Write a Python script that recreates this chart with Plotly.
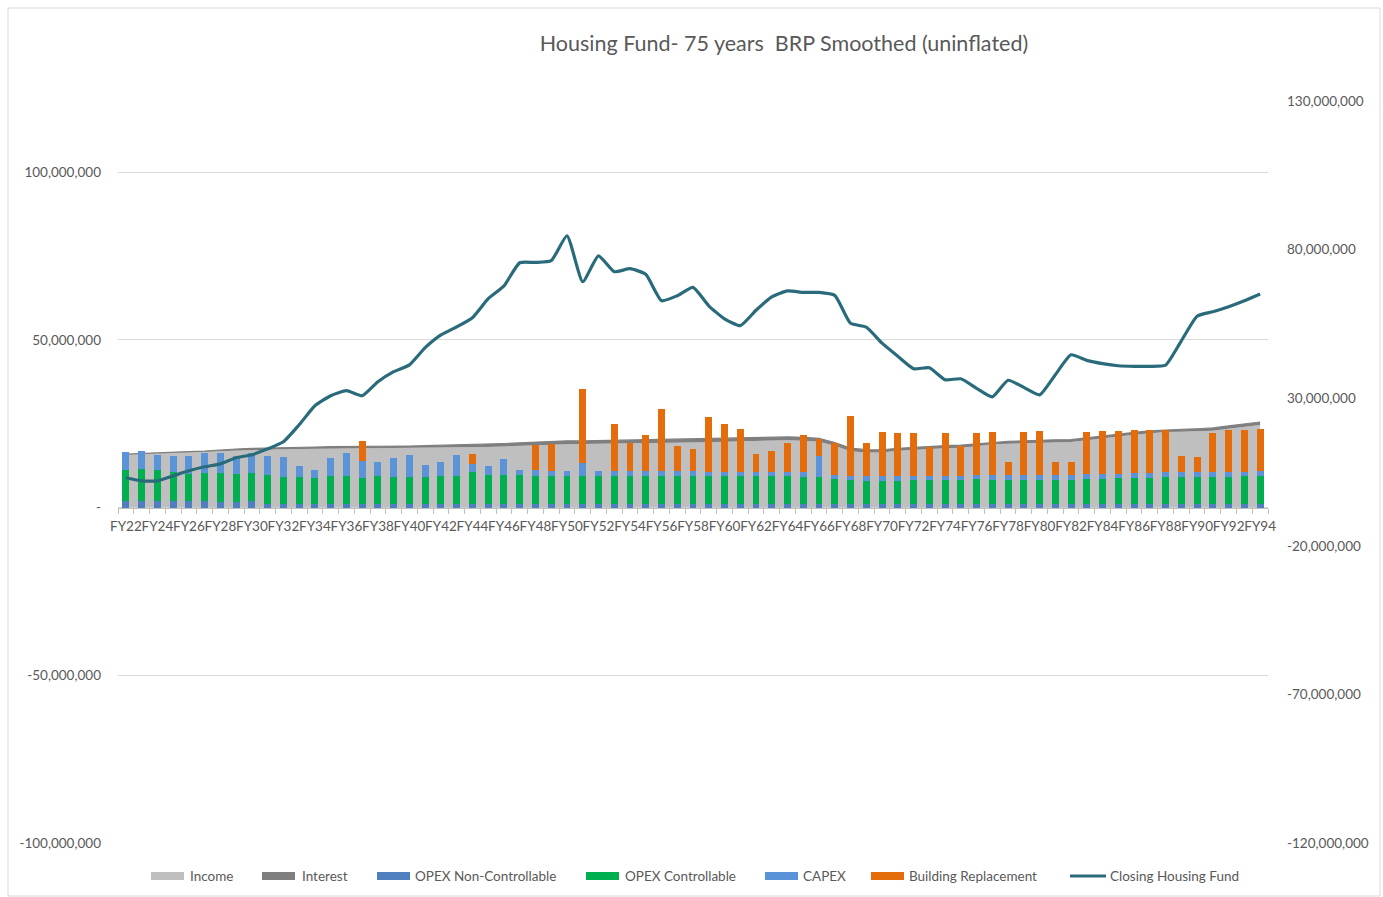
import plotly.graph_objects as go

years = ["FY%d" % y for y in range(22, 95)]
shown_labels = ["FY22", "FY24", "FY26", "FY28", "FY30", "FY32", "FY34", "FY36", "FY38", "FY40",
                "FY42", "FY44", "FY46", "FY48", "FY50", "FY52", "FY54", "FY56", "FY58", "FY60",
                "FY62", "FY64", "FY66", "FY68", "FY70", "FY72", "FY74", "FY76", "FY78", "FY80",
                "FY82", "FY84", "FY86", "FY88", "FY90", "FY92", "FY94"]

# values in millions
income = [15.8, 16.05, 16.2, 16.35, 16.5, 16.65, 16.95, 17.1, 17.25, 17.35,
          17.4, 17.45, 17.5, 17.55, 17.55, 17.55, 17.55, 17.6, 17.65, 17.7,
          17.8, 17.85, 17.95, 18.05, 18.2, 18.4, 18.55, 18.75, 18.9, 18.95,
          19.0, 19.05, 19.1, 19.15, 19.25, 19.3, 19.35, 19.5, 19.65, 19.8,
          19.95, 20.0, 20.05, 19.95, 19.65, 18.45, 16.8, 16.45, 16.45, 16.9,
          17.2, 17.45, 17.7, 17.85, 18.25, 18.9, 19.05, 19.25, 19.4, 19.5,
          19.55, 20.1, 20.75, 21.2, 21.7, 22.15, 22.5, 22.6, 22.7, 22.9,
          23.5, 24.0, 24.6]
interest = [0.1, 0.1, 0.15, 0.15, 0.2, 0.2, 0.3, 0.35, 0.4, 0.45,
            0.5, 0.55, 0.55, 0.6, 0.6, 0.65, 0.65, 0.7, 0.7, 0.75,
            0.75, 0.8, 0.8, 0.85, 0.9, 0.9, 0.95, 1.0, 1.0, 0.9,
            0.95, 1.0, 1.05, 1.1, 1.15, 1.2, 1.25, 1.2, 1.15, 1.05,
            1.0, 1.0, 1.0, 1.0, 1.0, 0.9, 0.9, 0.8, 0.75, 0.75,
            0.75, 0.75, 0.75, 0.75, 0.7, 0.6, 0.65, 0.65, 0.7, 0.7,
            0.7, 0.7, 0.7, 0.7, 0.7, 0.7, 0.7, 0.75, 0.8, 0.85,
            0.85, 0.9, 0.9]
opex_nc = [2.1, 2.1, 2.1, 2.1, 2.1, 2.1, 1.6, 1.6, 2.1, 1.1,
           1.1, 1.1, 1.1, 1.1, 1.1, 1.1, 1.1, 1.1, 1.1, 1.1,
           1.1, 1.1, 1.1, 1.1, 1.1, 1.1, 1.1, 1.1, 1.1, 1.1,
           1.1, 1.1, 1.1, 1.1, 1.1, 1.1, 1.1, 1.1, 1.1, 1.1,
           1.1, 1.1, 1.1, 1.1, 1.1, 1.1, 1.1, 1.1, 1.1, 1.1,
           1.1, 1.1, 1.1, 1.1, 1.1, 1.1, 1.1, 1.1, 1.1, 1.1,
           1.1, 1.1, 1.1, 1.1, 1.1, 1.1, 1.1, 1.1, 1.1, 1.1,
           1.1, 1.1, 1.1]
opex_c = [9.0, 9.3, 9.0, 8.6, 8.0, 8.3, 8.8, 8.5, 8.3, 8.5,
          8.0, 8.0, 7.8, 8.3, 8.3, 7.8, 8.3, 8.0, 8.0, 8.0,
          8.3, 8.3, 9.5, 8.5, 8.7, 8.5, 8.3, 8.3, 8.3, 8.3,
          8.3, 8.3, 8.3, 8.3, 8.3, 8.3, 8.3, 8.2, 8.2, 8.2,
          8.2, 8.2, 8.2, 7.9, 8.0, 7.35, 7.1, 6.75, 6.75, 6.75,
          7.1, 7.1, 7.1, 7.1, 7.35, 7.2, 7.2, 7.2, 7.2, 7.2,
          7.2, 7.4, 7.4, 7.7, 7.7, 7.7, 7.9, 7.9, 7.9, 7.9,
          7.9, 8.2, 8.2]
capex = [5.5, 5.4, 4.7, 4.55, 5.15, 5.85, 5.85, 5.15, 5.85, 5.85,
         6.1, 3.15, 2.2, 5.35, 6.85, 5.05, 4.15, 5.65, 6.55, 3.55,
         4.05, 6.25, 2.5, 2.7, 4.65, 1.5, 1.7, 1.4, 1.5, 3.8,
         1.5, 1.4, 1.4, 1.4, 1.4, 1.4, 1.4, 1.4, 1.4, 1.4,
         1.4, 1.4, 1.4, 1.5, 6.35, 1.3, 1.3, 1.5, 1.5, 1.5,
         1.3, 1.3, 1.3, 1.3, 1.3, 1.4, 1.4, 1.4, 1.4, 1.4,
         1.4, 1.5, 1.5, 1.2, 1.4, 1.4, 1.5, 1.5, 1.5, 1.5,
         1.5, 1.2, 1.5]
building_repl = [0, 0, 0, 0, 0, 0, 0, 0, 0, 0,
                 0, 0, 0, 0, 0, 5.95, 0, 0, 0, 0,
                 0, 0, 2.9, 0, 0, 0, 7.5, 8.1, 0, 22.0,
                 0, 14.2, 8.3, 10.8, 18.5, 7.5, 6.6, 16.2, 14.3, 12.8,
                 5.3, 6.2, 8.45, 11.0, 5.1, 9.4, 17.7, 9.8, 13.2, 12.8,
                 12.6, 8.45, 12.7, 8.9, 12.5, 12.8, 3.95, 12.8, 13.0, 3.95,
                 3.8, 12.5, 12.7, 12.7, 12.8, 12.8, 12.5, 4.85, 4.55, 11.7,
                 12.7, 12.7, 12.6]
closing_fund = [3.05, 2.0, 2.0, 3.7, 5.4, 6.75, 7.75, 9.8, 10.8, 12.8,
                15.2, 20.9, 27.3, 30.7, 32.4, 30.7, 35.4, 38.8, 41.1, 46.9,
                51.2, 53.9, 57.0, 63.4, 67.7, 75.5, 75.6, 76.2, 84.6, 69.1,
                77.8, 72.5, 73.5, 71.6, 62.7, 64.4, 67.2, 61.0, 56.6, 54.3,
                59.5, 64.0, 66.0, 65.5, 65.5, 64.5, 55.1, 53.8, 48.4, 44.0,
                39.8, 40.1, 36.1, 36.4, 33.2, 30.3, 35.9, 33.5, 31.0, 37.8,
                44.5, 42.6, 41.5, 40.8, 40.6, 40.6, 41.0, 49.2, 57.5, 59.0,
                60.7, 62.7, 65.0]

M = 1e6
def sc(a):
    return [v * M for v in a]

left_ticks = [-100e6, -50e6, 0, 50e6, 100e6]
left_tick_text = ["-100,000,000", "-50,000,000", "-", "50,000,000", "100,000,000"]
right_ticks = [-120e6, -70e6, -20e6, 30e6, 80e6, 130e6]
right_tick_text = ["-120,000,000", "-70,000,000", "-20,000,000", "30,000,000", "80,000,000", "130,000,000"]

FONT = "Lato, Liberation Sans, sans-serif"
TXT = "#595959"
C_INC, C_INT, C_NC, C_C, C_CAP, C_BR, C_LINE = "#BFBFBF", "#7F7F7F", "#4F7FBE", "#00B050", "#5B93D8", "#E46C0A", "#2A6B7B"

# plot area in pixels
PL, PR, PT, PB = 118, 1268, 101, 843
W, H = 1383, 897
LEFT_MIN, LEFT_MAX = -100e6, 121.2e6

fig = go.Figure()
fig.add_trace(go.Scatter(x=years, y=sc(income), name="Income", stackgroup="inc", mode="lines",
                         line=dict(width=0, color=C_INC), fillcolor=C_INC, xaxis="x", yaxis="y"))
fig.add_trace(go.Scatter(x=years, y=sc(interest), name="Interest", stackgroup="inc", mode="lines",
                         line=dict(width=1.2, color=C_INT), fillcolor=C_INT, xaxis="x", yaxis="y"))
bar_specs = [("OPEX Non-Controllable", opex_nc, C_NC),
             ("OPEX Controllable", opex_c, C_C),
             ("CAPEX", capex, C_CAP),
             ("Building Replacement", building_repl, C_BR)]
for name, vals, col in bar_specs:
    fig.add_trace(go.Bar(x=years, y=sc(vals), name=name, marker=dict(color=col, line=dict(width=0)),
                         xaxis="x", yaxis="y2"))
fig.add_trace(go.Scatter(x=years, y=sc(closing_fund), name="Closing Housing Fund", mode="lines",
                         line=dict(color=C_LINE, width=3.2, shape="spline", smoothing=0.5),
                         xaxis="x", yaxis="y3"))

x_tick_text = [c if c in shown_labels else "" for c in years]

fig.update_layout(
    width=W, height=H,
    margin=dict(l=PL, r=W - PR, t=PT, b=H - PB, autoexpand=False),
    paper_bgcolor="white", plot_bgcolor="white",
    barmode="stack", bargap=0.56,
    font=dict(family=FONT, color=TXT, size=13),
    showlegend=False,
    title=dict(text="Housing Fund- 75 years\u00a0 BRP Smoothed (uninflated)",
               x=784 / W, xanchor="center", y=1 - 43 / H, yanchor="middle", yref="container",
               font=dict(family=FONT, size=21.5, color=TXT)),
    xaxis=dict(type="category", range=[-0.5, 72.5], anchor="free",
               position=(0 - LEFT_MIN) / (LEFT_MAX - LEFT_MIN),
               tickmode="array", tickvals=years, ticktext=x_tick_text, tickson="boundaries",
               ticks="outside", ticklen=5, tickcolor="#BFBFBF", showline=True, linecolor="#BFBFBF",
               linewidth=1, showgrid=False, tickangle=0, ticklabelstandoff=6,
               tickfont=dict(size=13.5, color=TXT)),
    yaxis=dict(range=[LEFT_MIN, LEFT_MAX], tickmode="array", tickvals=left_ticks, ticktext=left_tick_text,
               showgrid=True, gridcolor="#D9D9D9", gridwidth=1, zeroline=False, showline=False,
               ticks="", ticklabelstandoff=16, tickfont=dict(size=13.5, color=TXT)),
    yaxis2=dict(range=[LEFT_MIN, LEFT_MAX], overlaying="y", visible=False, showgrid=False, zeroline=False),
    yaxis3=dict(range=[-120e6, 130e6], overlaying="y", side="right", anchor="x", tickmode="array",
                tickvals=right_ticks, ticktext=right_tick_text, showgrid=False, zeroline=False,
                showline=False, ticks="", ticklabelstandoff=18, tickfont=dict(size=13.5, color=TXT)),
)

def px_x(p):
    return (p - PL) / (PR - PL)

def px_y(p):
    return (PB - p) / (PB - PT)

# chart border
fig.add_shape(type="rect", xref="paper", yref="paper",
              x0=px_x(8), x1=px_x(1380), y0=px_y(896), y1=px_y(8),
              line=dict(color="#D9D9D9", width=1), fillcolor="rgba(0,0,0,0)", layer="below")

# custom legend (Excel style wide keys)
LEG_Y = 876
legend_items = [("Income", C_INC, "rect", 151, 188),
                ("Interest", C_INT, "rect", 262, 300),
                ("OPEX Non-Controllable", C_NC, "rect", 377, 413),
                ("OPEX Controllable", C_C, "rect", 586, 623),
                ("CAPEX", C_CAP, "rect", 765, 801),
                ("Building Replacement", C_BR, "rect", 871, 907),
                ("Closing Housing Fund", C_LINE, "line", 1070, 1108)]
for name, col, kind, xs, xt in legend_items:
    if kind == "rect":
        fig.add_shape(type="rect", xref="paper", yref="paper",
                      x0=px_x(xs), x1=px_x(xs + 33), y0=px_y(LEG_Y + 4), y1=px_y(LEG_Y - 4),
                      line=dict(width=0), fillcolor=col)
    else:
        fig.add_shape(type="line", xref="paper", yref="paper",
                      x0=px_x(xs), x1=px_x(xs + 36), y0=px_y(LEG_Y), y1=px_y(LEG_Y),
                      line=dict(color=col, width=3.2))
    fig.add_annotation(text=name, xref="paper", yref="paper", x=px_x(xt), y=px_y(LEG_Y),
                       xanchor="left", yanchor="middle", showarrow=False,
                       font=dict(family=FONT, size=13.5, color=TXT))

fig.write_html("out.html", config={"displayModeBar": False},
               post_script="document.body.style.margin='0';document.body.style.overflow='hidden';")
